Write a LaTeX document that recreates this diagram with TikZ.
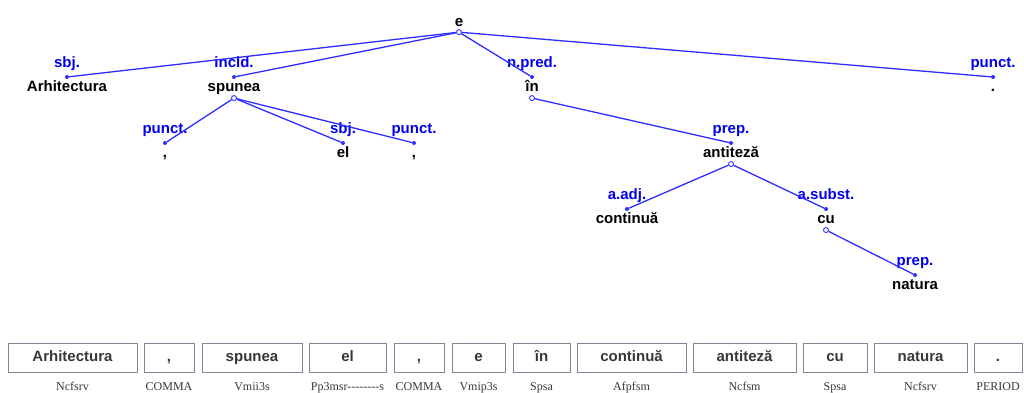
\documentclass[tikz,border=0pt]{standalone}
\usepackage{fontspec}
\setmainfont{Liberation Sans}
\newfontfamily\tagfont{Liberation Serif}
\usepackage{tikz}
\usetikzlibrary{positioning}

\definecolor{linkblue}{RGB}{45,45,255}
\definecolor{relblue}{RGB}{0,0,235}
\definecolor{boxgrey}{RGB}{125,135,150}
\definecolor{wordgrey}{RGB}{55,55,55}

\tikzset{
	word/.style={inner sep=0pt, text height=11pt, text depth=3pt, font=\fontsize{15}{15}\selectfont\bfseries},
	rel/.style={word, text=relblue},
	dot/.style={circle, fill=linkblue, inner sep=0pt, minimum size=4pt},
	hub/.style={circle, draw=linkblue, line width=0.9pt, inner sep=0pt, minimum size=5pt},
	link/.style={linkblue, line width=1.3pt},
	tokbox/.style={draw=boxgrey, line width=0.8pt, minimum height=29pt, inner sep=0pt, text height=11pt, text depth=3pt, text=wordgrey, font=\fontsize{15}{15}\selectfont\bfseries},
	postag/.style={inner sep=0pt, text height=8pt, text depth=2pt, text=wordgrey, font=\tagfont\fontsize{12}{12}\selectfont},
}

\begin{document}
\begin{tikzpicture}[x=1pt, y=-1pt]
				\useasboundingbox (0,0) rectangle (1024,392);
				
				% tree: dots, words, relation labels
				\node[word, anchor=base] (e) at (459,26) {e};
				\node[hub, below=0pt of e] (eB) {};
				
				\node[dot] (arhT) at (67,77) {};
				\node[word, below=1pt of arhT] (arh) {Arhitectura};
				\node[rel, above=4pt of arhT] {sbj.};
				
				\node[dot] (spuT) at (234,77) {};
				\node[word, below=1pt of spuT] (spu) {spunea};
				\node[hub, below=0.5pt of spu] (spuB) {};
				\node[rel, above=4pt of spuT] {incld.};
				
				\node[dot] (inT) at (532,77) {};
				\node[word, below=1pt of inT] (in) {în};
				\node[hub, below=0.5pt of in] (inB) {};
				\node[rel, above=4pt of inT] {n.pred.};
				
				\node[dot] (perT) at (993,77) {};
				\node[word, below=1pt of perT] (per) {.};
				\node[rel, above=4pt of perT] {punct.};
				
				\node[dot] (comaT) at (165,143) {};
				\node[word, below=1pt of comaT] (coma) {,};
				\node[rel, above=4pt of comaT] {punct.};
				
				\node[dot] (elT) at (343,143) {};
				\node[word, below=1pt of elT] (el) {el};
				\node[rel, above=4pt of elT] {sbj.};
				
				\node[dot] (comcT) at (414,143) {};
				\node[word, below=1pt of comcT] (comc) {,};
				\node[rel, above=4pt of comcT] {punct.};
				
				\node[dot] (antT) at (731,143) {};
				\node[word, below=1pt of antT] (ant) {antiteză};
				\node[hub, below=0.5pt of ant] (antB) {};
				\node[rel, above=4pt of antT] {prep.};
				
				\node[dot] (conT) at (627,209) {};
				\node[word, below=1pt of conT] (con) {continuă};
				\node[rel, above=4pt of conT] {a.adj.};
				
				\node[dot] (cuT) at (826,209) {};
				\node[word, below=1pt of cuT] (cu) {cu};
				\node[hub, below=0.5pt of cu] (cuB) {};
				\node[rel, above=4pt of cuT] {a.subst.};
				
				\node[dot] (natT) at (915,275) {};
				\node[word, below=1pt of natT] (nat) {natura};
				\node[rel, above=4pt of natT] {prep.};
				
				% dependency links
				\draw[link] (eB) -- (arhT);
				\draw[link] (eB) -- (spuT);
				\draw[link] (eB) -- (inT);
				\draw[link] (eB) -- (perT);
				\draw[link] (spuB) -- (comaT);
				\draw[link] (spuB) -- (elT);
				\draw[link] (spuB) -- (comcT);
				\draw[link] (inB) -- (antT);
				\draw[link] (antB) -- (conT);
				\draw[link] (antB) -- (cuT);
				\draw[link] (cuB) -- (natT);
				
				% token row with tags
				\node[tokbox, minimum width=129pt] (t1) at (72.5,357.5) {Arhitectura};
				\node[tokbox, minimum width=50pt] (t2) at (169,357.5) {,};
				\node[tokbox, minimum width=100pt] (t3) at (252,357.5) {spunea};
				\node[tokbox, minimum width=77pt] (t4) at (347.5,357.5) {el};
				\node[tokbox, minimum width=50pt] (t5) at (419,357.5) {,};
				\node[tokbox, minimum width=53pt] (t6) at (478.5,357.5) {e};
				\node[tokbox, minimum width=57pt] (t7) at (541.5,357.5) {în};
				\node[tokbox, minimum width=109pt] (t8) at (631.5,357.5) {continuă};
				\node[tokbox, minimum width=103pt] (t9) at (744.5,357.5) {antiteză};
				\node[tokbox, minimum width=64pt] (t10) at (835,357.5) {cu};
				\node[tokbox, minimum width=93pt] (t11) at (920.5,357.5) {natura};
				\node[tokbox, minimum width=48pt] (t12) at (998,357.5) {.};
				
				\node[postag, below=10pt of t1] {Ncfsrv};
				\node[postag, below=10pt of t2] {COMMA};
				\node[postag, below=10pt of t3] {Vmii3s};
				\node[postag, below=10pt of t4] {Pp3msr--------s};
				\node[postag, below=10pt of t5] {COMMA};
				\node[postag, below=10pt of t6] {Vmip3s};
				\node[postag, below=10pt of t7] {Spsa};
				\node[postag, below=10pt of t8] {Afpfsm};
				\node[postag, below=10pt of t9] {Ncfsm};
				\node[postag, below=10pt of t10] {Spsa};
				\node[postag, below=10pt of t11] {Ncfsrv};
				\node[postag, below=10pt of t12] {PERIOD};
			\end{tikzpicture}
\end{document}
